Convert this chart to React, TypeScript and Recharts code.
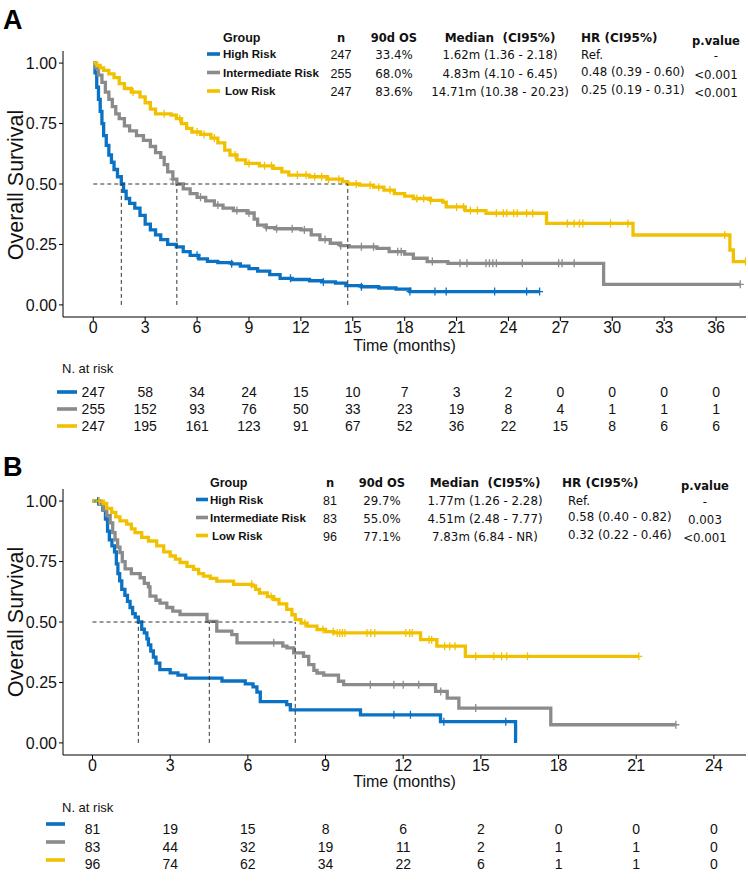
import React from "react";
import { ComposedChart, ScatterChart, Line, Scatter, XAxis, YAxis, ReferenceLine } from "recharts";

const BLUE = "#0b71c3";
const GRAY = "#8b8b8b";
const GOLD = "#f1c101";
const COLORS = [BLUE, GRAY, GOLD];

// ---------- Panel A data ----------
const aHigh = [[0,1],[0.1,0.96],[0.2,0.9],[0.3,0.85],[0.4,0.8],[0.5,0.75],[0.6,0.7],[0.75,0.66],[0.9,0.62],[1.05,0.59],[1.2,0.56],[1.4,0.53],[1.62,0.5],[1.75,0.47],[1.9,0.44],[2.1,0.42],[2.4,0.4],[2.7,0.37],[3.0,0.334],[3.3,0.31],[3.6,0.29],[3.9,0.27],[4.3,0.25],[4.8,0.24],[5.2,0.22],[5.6,0.205],[6.1,0.19],[6.6,0.18],[7.2,0.175],[8.0,0.17],[8.5,0.16],[9.0,0.15],[9.5,0.14],[10.2,0.125],[10.8,0.11],[11.5,0.105],[12.5,0.1],[13.2,0.095],[14.0,0.09],[14.6,0.08],[15.5,0.075],[16.5,0.07],[17.5,0.065],[18.3,0.055],[25.8,0.055]];
const aMid = [[0,1],[0.15,0.98],[0.3,0.95],[0.5,0.92],[0.7,0.88],[0.9,0.85],[1.1,0.82],[1.3,0.79],[1.5,0.77],[1.8,0.74],[2.1,0.72],[2.5,0.7],[2.9,0.68],[3.3,0.655],[3.6,0.63],[3.9,0.61],[4.1,0.58],[4.3,0.55],[4.6,0.52],[4.83,0.5],[5.2,0.48],[5.6,0.46],[6.0,0.445],[6.5,0.43],[7.0,0.413],[7.5,0.4],[8.1,0.39],[8.9,0.38],[9.3,0.355],[9.5,0.33],[10.0,0.32],[10.5,0.315],[12.0,0.31],[12.6,0.29],[13.1,0.27],[13.7,0.255],[14.3,0.245],[14.8,0.24],[16.4,0.234],[17.1,0.22],[18.0,0.21],[18.5,0.193],[19.3,0.179],[20.5,0.172],[29.5,0.085],[37.4,0.085]];
const aLow = [[0,1],[0.2,0.99],[0.4,0.98],[0.6,0.97],[0.9,0.955],[1.2,0.94],[1.5,0.915],[1.8,0.895],[2.2,0.88],[2.7,0.86],[3.0,0.836],[3.3,0.81],[3.6,0.79],[4.5,0.785],[4.8,0.77],[5.1,0.75],[5.4,0.73],[5.7,0.715],[6.2,0.705],[6.8,0.69],[7.2,0.67],[7.6,0.64],[7.9,0.62],[8.3,0.6],[8.8,0.585],[9.6,0.575],[10.4,0.565],[10.9,0.55],[11.3,0.537],[12.5,0.53],[13.5,0.52],[14.4,0.51],[14.71,0.5],[15.4,0.495],[16.2,0.487],[16.8,0.475],[17.4,0.46],[18.0,0.45],[18.5,0.44],[19.5,0.432],[20.2,0.425],[20.4,0.405],[21.5,0.39],[22.7,0.379],[26.2,0.337],[31.2,0.289],[36.8,0.227],[37.0,0.179],[37.7,0.179]];
const aHighCens = [6.0,8.0,11.4,13.3,15.5,18.3,19.75,20.4,23.2,25.05,25.8];
const aMidCens = [4.6,6.2,7.2,8.3,9.0,10.0,10.6,11.5,12.2,13.4,14.3,15.5,16.2,17.6,17.8,19.6,21.2,21.6,22.7,22.9,23.1,23.3,24.8,26.9,27.1,27.8,37.4];
const aLowCens = [2.3,4.1,5.0,6.0,6.4,7.0,8.2,9.0,9.9,10.3,11.8,12.3,12.8,13.2,13.6,14.2,15.2,16.0,16.5,17.15,18.7,19.1,19.5,21.0,21.4,21.8,22.2,23.3,23.7,23.9,24.3,24.5,25.05,25.4,27.4,27.8,28.1,28.3,29.9,30.9,36.5,37.7];
const aMedians = [1.62, 4.83, 14.71];
const aTicks = [0,3,6,9,12,15,18,21,24,27,30,33,36];
const aRiskHigh = [247,58,34,24,15,10,7,3,2,0,0,0,0];
const aRiskMid = [255,152,93,76,50,33,23,19,8,4,1,1,1];
const aRiskLow = [247,195,161,123,91,67,52,36,22,15,8,6,6];

// ---------- Panel B data ----------
const bHigh = [[0,1],[0.25,0.988],[0.4,0.963],[0.5,0.926],[0.58,0.876],[0.65,0.84],[0.75,0.815],[0.85,0.79],[0.92,0.74],[0.98,0.7],[1.05,0.67],[1.13,0.635],[1.25,0.61],[1.35,0.585],[1.45,0.56],[1.55,0.535],[1.65,0.52],[1.77,0.5],[1.9,0.47],[2.0,0.455],[2.1,0.43],[2.16,0.405],[2.25,0.38],[2.35,0.355],[2.45,0.33],[2.6,0.303],[3.0,0.29],[3.3,0.28],[3.6,0.268],[5.0,0.256],[5.9,0.244],[6.2,0.232],[6.35,0.21],[6.48,0.171],[7.5,0.158],[7.64,0.137],[10.35,0.116],[13.44,0.088],[16.34,0]];
const bMid = [[0,1],[0.3,0.988],[0.42,0.964],[0.55,0.94],[0.68,0.91],[0.78,0.87],[0.87,0.84],[0.97,0.81],[1.06,0.787],[1.15,0.75],[1.26,0.72],[1.5,0.7],[1.84,0.683],[2.0,0.66],[2.16,0.645],[2.22,0.607],[2.45,0.59],[2.61,0.578],[2.87,0.56],[3.1,0.545],[3.38,0.531],[4.42,0.503],[4.8,0.462],[5.38,0.448],[5.58,0.414],[7.35,0.4],[7.51,0.393],[7.77,0.372],[8.15,0.358],[8.35,0.324],[8.55,0.3],[8.67,0.289],[8.93,0.28],[9.5,0.255],[9.7,0.241],[13.25,0.213],[13.7,0.185],[14.15,0.144],[17.7,0.075],[22.5,0.075]];
const bLow = [[0,1],[0.42,0.99],[0.55,0.97],[0.74,0.953],[0.9,0.935],[1.06,0.918],[1.32,0.905],[1.5,0.885],[1.64,0.87],[1.9,0.85],[2.16,0.835],[2.48,0.815],[2.75,0.79],[3.0,0.773],[3.2,0.76],[3.38,0.746],[3.65,0.73],[3.9,0.718],[4.1,0.7],[4.29,0.69],[4.55,0.68],[4.8,0.669],[5.45,0.656],[6.16,0.649],[6.3,0.635],[6.45,0.62],[6.75,0.605],[7.0,0.593],[7.2,0.575],[7.5,0.552],[7.7,0.53],[7.83,0.51],[8.05,0.495],[8.29,0.483],[8.67,0.469],[9.0,0.46],[9.32,0.455],[12.67,0.427],[13.3,0.4],[14.4,0.358],[21.1,0.358]];
const bHighCens = [0.2,11.64,12.28,13.57,15.96];
const bMidCens = [0.25,7.0,10.73,11.64,12.0,12.6,13.45,14.8,22.53];
const bLowCens = [0.26,6.15,6.9,8.2,8.9,9.3,9.45,9.55,9.65,9.75,10.6,10.75,10.9,12.1,12.25,12.35,13.0,13.1,13.6,13.8,14.0,14.8,15.5,15.8,16.0,16.8,21.1];
const bMedians = [1.77, 4.51, 7.83];
const bTicks = [0,3,6,9,12,15,18,21,24];
const bRiskHigh = [81,19,15,8,6,2,0,0,0];
const bRiskMid = [83,44,32,19,11,2,1,1,0];
const bRiskLow = [96,74,62,34,22,6,1,1,0];

// ---------- Summary tables ----------
const groups = ["High Risk", "Intermediate Risk", "Low Risk"];
const aN = ["247", "255", "247"];
const aOS90 = ["33.4%", "68.0%", "83.6%"];
const aMedian = ["1.62m (1.36 - 2.18)", "4.83m (4.10 - 6.45)", "14.71m (10.38 - 20.23)"];
const aHR = ["Ref.", "0.48 (0.39 - 0.60)", "0.25 (0.19 - 0.31)"];
const aP = ["-", "<0.001", "<0.001"];
const bN = ["81", "83", "96"];
const bOS90 = ["29.7%", "55.0%", "77.1%"];
const bMedian = ["1.77m (1.26 - 2.28)", "4.51m (2.48 - 7.77)", "7.83m (6.84 - NR)"];
const bHR = ["Ref.", "0.58 (0.40 - 0.82)", "0.32 (0.22 - 0.46)"];
const bP = ["-", "0.003", "<0.001"];

const SANS = "'Liberation Sans', Arial, sans-serif";
const VERD = "'DejaVu Sans', Verdana, sans-serif";

const toPts = (arr) => arr.map(([t, s]) => ({ t, s }));
const levelAt = (curve, t) => {
  let s = curve[0][1];
  for (const [ct, cs] of curve) { if (ct <= t) s = cs; }
  return s;
};
const censPts = (curve, cens) => cens.map((t) => ({ t, s: levelAt(curve, t) }));

const plusShape = (color) => (props) => {
  const { cx, cy } = props;
  if (cx == null || cy == null) return null;
  return (
    <path d={`M${cx},${cy - 4}V${cy + 4}M${cx - 3.5},${cy}H${cx + 3.5}`} stroke={color} strokeWidth={1.3} fill="none" />
  );
};

function KMPanel({ curves, censors, medians, domain, ticks }) {
  return (
    <ComposedChart width={748} height={360} margin={{ top: 51, right: 2, left: 20, bottom: 3 }}>
      <XAxis dataKey="t" type="number" domain={domain} ticks={ticks} allowDataOverflow
        height={40} tickSize={4} tickMargin={1}
        axisLine={{ stroke: "#000", strokeWidth: 1 }} tickLine={{ stroke: "#000" }}
        tick={{ fill: "#111", fontSize: 16, fontFamily: SANS }} />
      <YAxis dataKey="s" type="number" domain={[-0.05, 1.05]} ticks={[0, 0.25, 0.5, 0.75, 1]} allowDataOverflow
        width={43} tickSize={4} tickMargin={2} tickFormatter={(v) => v.toFixed(2)}
        axisLine={{ stroke: "#000", strokeWidth: 1 }} tickLine={{ stroke: "#000" }}
        tick={{ fill: "#111", fontSize: 16, fontFamily: SANS }} />
      {curves.map((c, i) => (
        <Line key={"l" + i} data={toPts(c)} dataKey="s" type="stepAfter" stroke={COLORS[i]} strokeWidth={3.3}
          dot={false} activeDot={false} isAnimationActive={false} />
      ))}
      {curves.map((c, i) => (
        <Scatter key={"c" + i} data={censPts(c, censors[i])} dataKey="s" shape={plusShape(COLORS[i])} isAnimationActive={false} />
      ))}
      <ReferenceLine segment={[{ x: 0, y: 0.5 }, { x: medians[2], y: 0.5 }]} stroke="#333" strokeDasharray="4 3" strokeWidth={1} />
      {medians.map((m, i) => (
        <ReferenceLine key={"m" + i} segment={[{ x: m, y: 0 }, { x: m, y: 0.5 }]} stroke="#333" strokeDasharray="4 3" strokeWidth={1} />
      ))}
    </ComposedChart>
  );
}

function RiskTable({ times, rows, domain, height, top, bottom }) {
  const data = [];
  rows.forEach((r, ri) => r.forEach((n, ti) => data.push({ t: times[ti], row: 3 - ri, n })));
  const shape = (props) => {
    const { cx, cy, payload } = props;
    return (
      <text x={cx} y={cy} textAnchor="middle" dominantBaseline="central" fontFamily={SANS} fontSize={14} fill="#111">
        {payload.n}
      </text>
    );
  };
  return (
    <ScatterChart width={748} height={height} margin={{ top, right: 2, left: 63, bottom }}>
      <XAxis dataKey="t" type="number" domain={domain} hide allowDataOverflow />
      <YAxis dataKey="row" type="number" domain={[0.5, 3.5]} hide allowDataOverflow />
      <Scatter data={data} shape={shape} isAnimationActive={false} />
    </ScatterChart>
  );
}

function SummaryTable({ L, n, os, med, hr, p }) {
  const VF = 11.8;
  return (
    <g fill="#111">
      <text x={L.labelX} y={L.headY} dominantBaseline="central" fontFamily={SANS} fontWeight="bold" fontSize={12.5}>Group</text>
      <text x={L.nX} y={L.headY} textAnchor="middle" dominantBaseline="central" fontFamily={VERD} fontWeight="bold" fontSize={11.5}>n</text>
      <text x={L.osX} y={L.headY} textAnchor="middle" dominantBaseline="central" fontFamily={VERD} fontWeight="bold" fontSize={11.5}>90d OS</text>
      <text x={L.medX} y={L.headY} textAnchor="middle" dominantBaseline="central" fontFamily={VERD} fontWeight="bold" fontSize={12} style={{ whiteSpace: "pre" }}>{"Median  (CI95%)"}</text>
      <text x={L.hrHeadX} y={L.headY} dominantBaseline="central" fontFamily={VERD} fontWeight="bold" fontSize={12}>HR (CI95%)</text>
      <text x={L.pX} y={L.pHeadY} textAnchor="middle" dominantBaseline="central" fontFamily={VERD} fontWeight="bold" fontSize={11.5}>p.value</text>
      {groups.map((g, i) => (
        <g key={g}>
          <rect x={L.segX} y={L.rows[i] - 1.8} width={L.segW} height={3.6} fill={COLORS[i]} />
          <text x={L.labelX + (i === 2 ? 2 : 0)} y={L.rows[i]} dominantBaseline="central" fontFamily={SANS} fontWeight="bold" fontSize={11.5}>{g}</text>
          <text x={L.nX} y={L.rows[i] + 1} textAnchor="middle" dominantBaseline="central" fontFamily={SANS} fontSize={12.5}>{n[i]}</text>
          <text x={L.osX} y={L.rows[i] + 1} textAnchor="middle" dominantBaseline="central" fontFamily={VERD} fontSize={VF}>{os[i]}</text>
          <text x={L.medX} y={L.rows[i] + 1} textAnchor="middle" dominantBaseline="central" fontFamily={VERD} fontSize={VF}>{med[i]}</text>
          <text x={L.hrX} y={L.rows[i] - (i === 0 ? -1 : 1)} dominantBaseline="central" fontFamily={VERD} fontSize={VF}>{hr[i]}</text>
          <text x={L.pX} y={L.rows[i] + 2} textAnchor="middle" dominantBaseline="central" fontFamily={VERD} fontSize={VF}>{p[i]}</text>
        </g>
      ))}
    </g>
  );
}

const layoutA = { headY: 38, pHeadY: 41, rows: [54, 72.5, 91], segX: 207, segW: 13, labelX: 223, nX: 341, osX: 394, medX: 500, hrHeadX: 581, hrX: 581, pX: 716 };
const layoutB = { headY: 483, pHeadY: 486, rows: [499.5, 517.5, 535.5], segX: 196, segW: 12, labelX: 210, nX: 330, osX: 382, medX: 485, hrHeadX: 562, hrX: 568, pX: 705 };

export default function App() {
  return (
    <div style={{ position: "absolute", left: 0, top: 0, width: 748, height: 888, background: "#fff", overflow: "hidden" }}>
      <div style={{ position: "absolute", left: 0, top: 0 }}>
        <KMPanel curves={[aHigh, aMid, aLow]} censors={[aHighCens, aMidCens, aLowCens]} medians={aMedians} domain={[-1.75, 37.73]} ticks={aTicks} />
      </div>
      <div style={{ position: "absolute", left: 0, top: 438 }}>
        <KMPanel curves={[bHigh, bMid, bLow]} censors={[bHighCens, bMidCens, bLowCens]} medians={bMedians} domain={[-1.14, 25.24]} ticks={bTicks} />
      </div>
      <div style={{ position: "absolute", left: 0, top: 380 }}>
        <RiskTable times={aTicks} rows={[aRiskHigh, aRiskMid, aRiskLow]} domain={[-1.75, 37.73]} height={60} top={3.5} bottom={5.5} />
      </div>
      <div style={{ position: "absolute", left: 0, top: 815 }}>
        <RiskTable times={bTicks} rows={[bRiskHigh, bRiskMid, bRiskLow]} domain={[-1.14, 25.24]} height={65} top={5.25} bottom={7.25} />
      </div>
      <svg width={748} height={888} style={{ position: "absolute", left: 0, top: 0, pointerEvents: "none" }}>
        <text x={3} y={29} fontFamily={SANS} fontWeight="bold" fontSize={27}>A</text>
        <text x={3} y={476} fontFamily={SANS} fontWeight="bold" fontSize={27}>B</text>
        <text transform="translate(23,185) rotate(-90)" textAnchor="middle" fontFamily={SANS} fontSize={21.5} fill="#111">Overall Survival</text>
        <text transform="translate(23,622) rotate(-90)" textAnchor="middle" fontFamily={SANS} fontSize={21.5} fill="#111">Overall Survival</text>
        <text x={404.5} y={351} textAnchor="middle" fontFamily={SANS} fontSize={16} fill="#111">Time (months)</text>
        <text x={404.5} y={787} textAnchor="middle" fontFamily={SANS} fontSize={16} fill="#111">Time (months)</text>
        <SummaryTable L={layoutA} n={aN} os={aOS90} med={aMedian} hr={aHR} p={aP} />
        <SummaryTable L={layoutB} n={bN} os={bOS90} med={bMedian} hr={bHR} p={bP} />
        <text x={62} y={368} dominantBaseline="central" fontFamily={SANS} fontSize={13} fill="#111">N. at risk</text>
        <text x={62} y={807} dominantBaseline="central" fontFamily={SANS} fontSize={13} fill="#111">N. at risk</text>
        {COLORS.map((c, i) => (
          <rect key={"ra" + i} x={57} y={392 + i * 17 - 1.8} width={20} height={3.6} fill={c} />
        ))}
        {COLORS.map((c, i) => (
          <rect key={"rb" + i} x={46} y={824 + i * 18 - 1.8} width={19} height={3.6} fill={c} />
        ))}
      </svg>
    </div>
  );
}
